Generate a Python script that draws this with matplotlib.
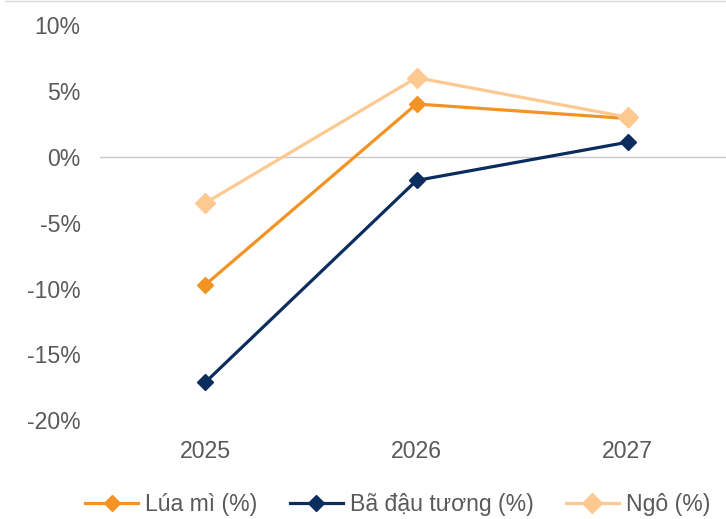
import matplotlib.pyplot as plt
from matplotlib.lines import Line2D
from matplotlib.ticker import FuncFormatter

plt.rcParams['font.family'] = ['Liberation Sans', 'DejaVu Sans']

years = ['2025', '2026', '2027']
lua_mi = [-9.7, 4.0, 2.9]
ba_dau_tuong = [-17.1, -1.8, 1.1]
ngo = [-3.5, 6.0, 3.0]
yticks = [-20, -15, -10, -5, 0, 5, 10]

fs = 16.6

fig = plt.figure(figsize=(7.26, 5.19), dpi=100)
ax = fig.add_axes([0.1377, 0.190, 0.872, 0.762])

x = range(len(years))
ax.plot(x, lua_mi, color='#F39323', lw=2.3, marker='D', ms=8.5, label='Lúa mì (%)')
ax.plot(x, ba_dau_tuong, color='#0B2D5E', lw=2.3, marker='D', ms=8.5, label='Bã đậu tương (%)')
ax.plot(x, ngo, color='#FDC990', lw=2.3, marker='D', ms=10, label='Ngô (%)')

ax.axhline(0, color='#c8c8c8', lw=1, zorder=0)
ax.set_xlim(-0.5, 2.5)
ax.set_ylim(-20, 10)
ax.set_yticks(yticks)
ax.yaxis.set_major_formatter(FuncFormatter(lambda v, p: f'{v:.0f}%'))
ax.set_xticks(list(x))
ax.set_xticklabels(years)
ax.tick_params(length=0, labelsize=fs, labelcolor='#595959')
ax.tick_params(axis='y', pad=14)
ax.tick_params(axis='x', pad=14)
for s in ax.spines.values():
    s.set_visible(False)

fig.add_artist(Line2D([0.007, 1], [0.999, 0.999], color='#d9d9d9', lw=1))

fig.legend(loc='center', bbox_to_anchor=(0.548, 0.027), ncol=3, frameon=False,
           fontsize=fs, labelcolor='#595959', handlelength=2.3,
           handletextpad=0.3, columnspacing=1.4, borderaxespad=0)

fig.savefig('out.png', dpi=100)
